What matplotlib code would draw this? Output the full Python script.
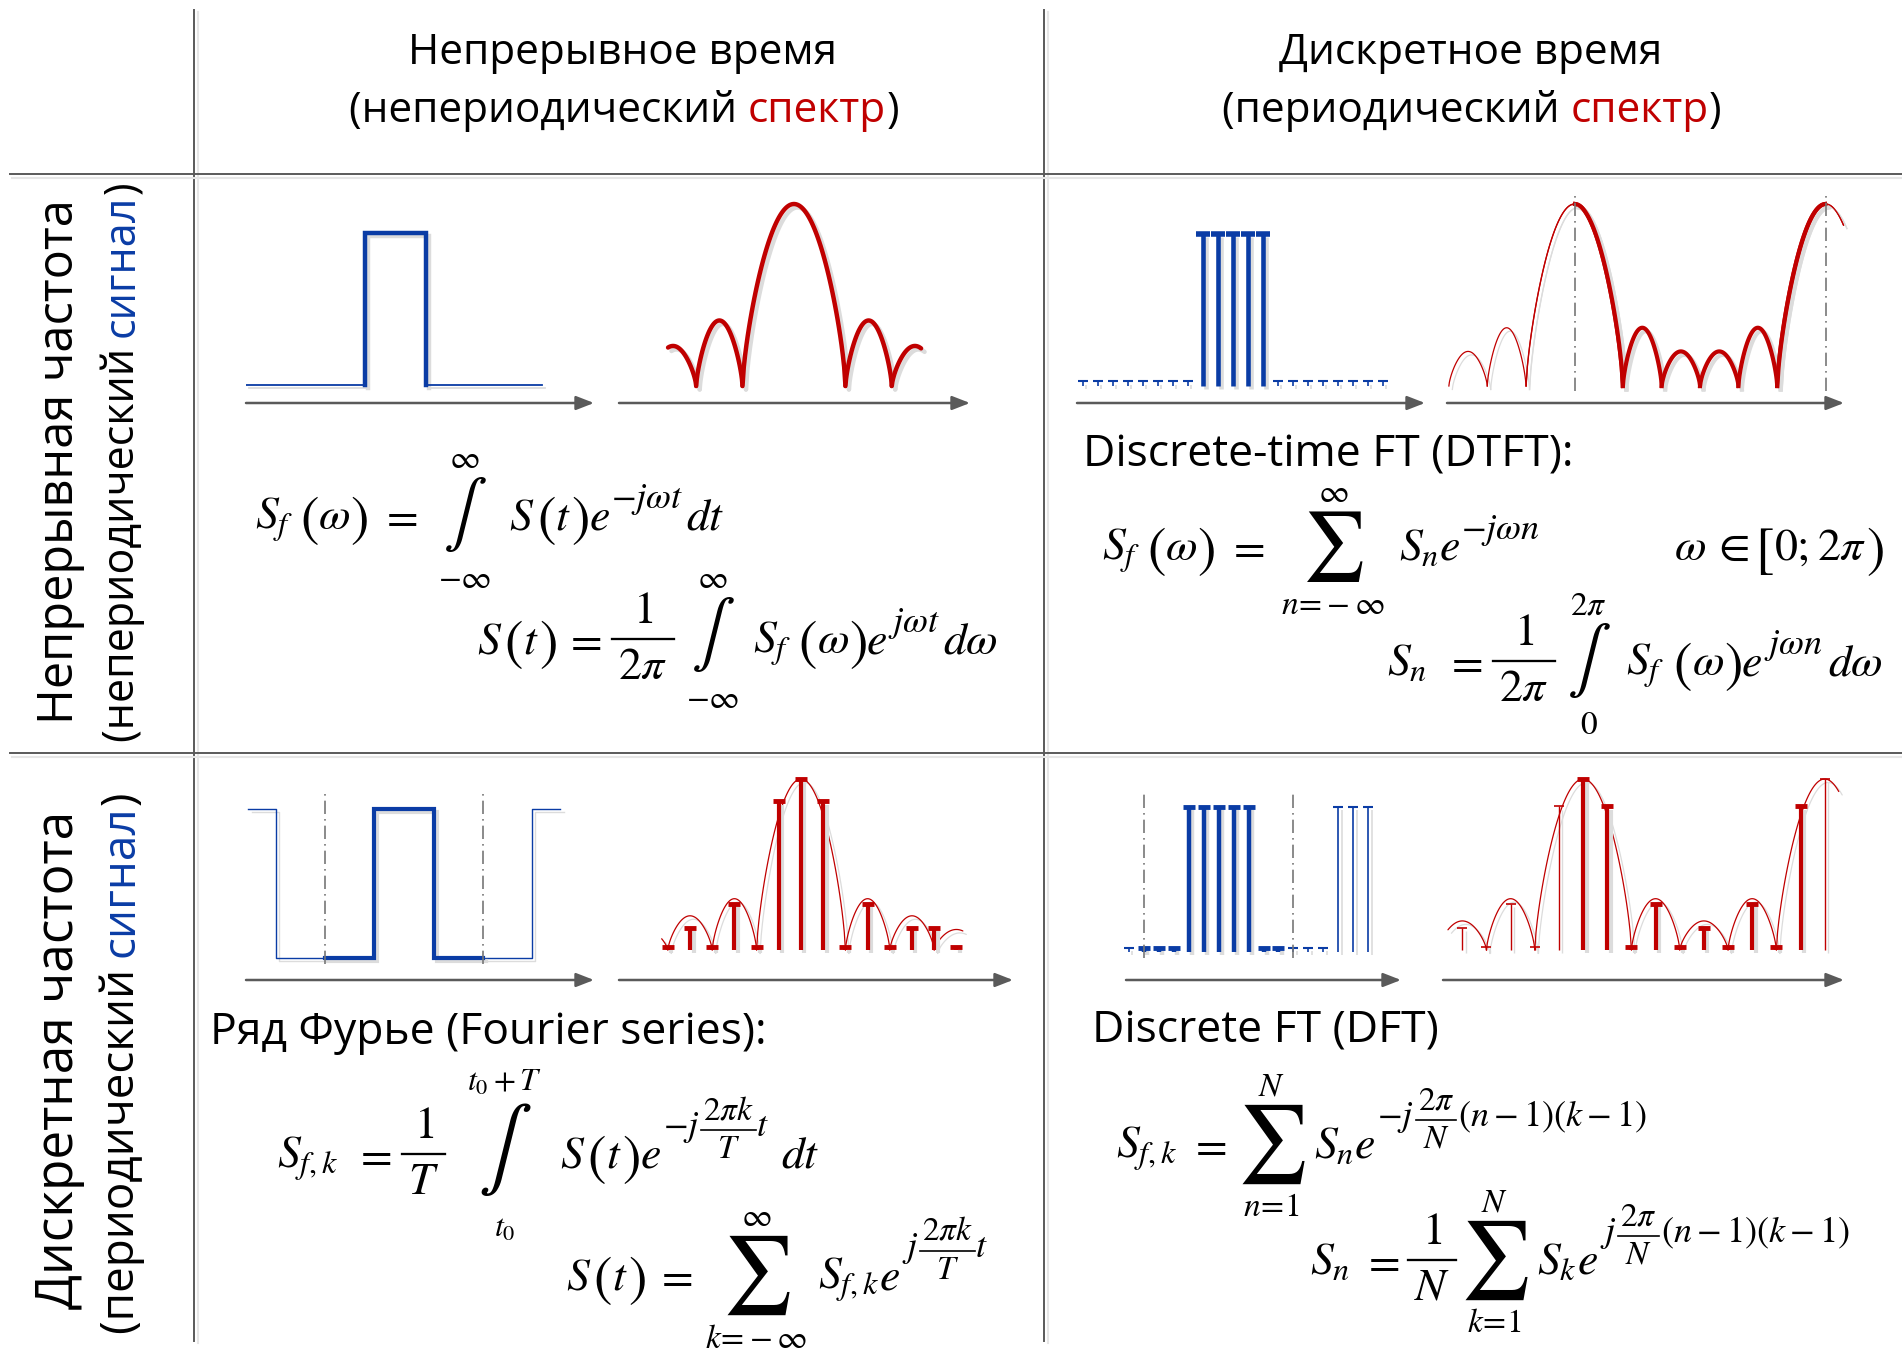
import numpy as np
import matplotlib
matplotlib.use('Agg')
import matplotlib.pyplot as plt
from matplotlib import patheffects as pe

# ---------------- data ----------------
# A: continuous aperiodic rectangular pulse
pulseA_edges = [4.1, 6.2]
pulseA_span = [0.0, 10.2]

# B: continuous spectrum lobes (zeros, peak heights)
specB_zeros = [-2.8, -1.9, -1.0, 1.0, 1.9, 2.8]
specB_heights = [0.22, 0.36, 1.0, 0.36, 0.22]
specB_span = [-2.45, 2.48]

# C: discrete-time pulse samples
sampC_n = list(range(-8, 13))
sampC_val = [0.03] * 8 + [1.0] * 5 + [0.03] * 8

# D: periodic spectrum, one period: zeros inside (0, 2pi) and side-lobe heights
specD_half_main = 1.21
specD_zeros = [1.21, 2.18, 3.14, 4.10, 5.07]
specD_side = [0.32, 0.19, 0.19, 0.32]
specD_span = [-3.15, 6.74]

# E: periodic continuous pulse
periodE = 10.0
widthE = 3.8
spanE = [-9.85, 9.9]

# F: Fourier-series coefficients (magnitudes)
coefF_k = list(range(-6, 8))
coefF_val = [0.02, 0.13, 0.02, 0.27, 0.02, 0.87, 1.0, 0.87, 0.02, 0.27, 0.02, 0.13, 0.13, 0.02]
envF_zeros = [-8.0, -6.0, -4.0, -2.0, 2.0, 4.0, 6.0, 8.0]
envF_heights = [0.12, 0.2, 0.3, 1.0, 0.3, 0.2, 0.12]
envF_span = [-6.3, 7.3]

# G: periodic discrete samples (period 10)
sampG_n = list(range(-1, 16))
sampG_val = [0.03, 0.03, 0.03, 0.03, 1, 1, 1, 1, 1, 0.03, 0.03, 0.03, 0.03, 0.03, 1, 1, 1]

# H: DFT coefficients (period 10) and periodic envelope
coefH_k = list(range(-5, 11))
coefH_val = [0.13, 0.02, 0.27, 0.02, 0.84, 1.0, 0.84, 0.02, 0.27, 0.02, 0.13, 0.02, 0.27, 0.02, 0.84, 1.0]
envH_zeros = [-8.0, -6.0, -4.0, -2.0, 2.0, 4.0, 6.0, 8.0, 12.0]
envH_heights = [0.3, 0.17, 0.3, 1.0, 0.3, 0.17, 0.3, 1.0]

W, H = 1902, 1358
DPI = 100
plt.rcParams['mathtext.fontset'] = 'stix'
plt.rcParams['font.family'] = ['Open Sans', 'DejaVu Sans']

BLUE = '#0a3ca5'
RED = '#c00000'
GRID = '#5a5a5a'
ARROW = '#5a5a5a'
SHADOW = [pe.SimpleLineShadow(offset=(2.5, -2.5), shadow_color='#dcdcdc', alpha=1.0), pe.Normal()]

fig = plt.figure(figsize=(W / DPI, H / DPI), dpi=DPI)
bg = fig.add_axes([0, 0, 1, 1])
bg.set_xlim(0, W)
bg.set_ylim(H, 0)
bg.axis('off')
renderer = fig.canvas.get_renderer()

# ---------------- grid ----------------
for x in (194, 1044):
    bg.plot([x + 4, x + 4], [12, 1343], color='#e6e6e6', lw=1.5)
    bg.plot([x, x], [10, 1341], color=GRID, lw=1.4)
for y in (174, 753):
    bg.plot([12, W], [y + 4, y + 4], color='#e6e6e6', lw=1.5)
    bg.plot([10, W], [y, y], color=GRID, lw=1.4)


# ---------------- text helpers ----------------
def extent(s, size):
    t = bg.text(0, 0, s, fontsize=size)
    bb = t.get_window_extent(renderer)
    t.remove()
    return bb.width, bb.height


def text_width(s, size):
    return extent(s + '|', size)[0] - extent('|', size)[0]


def rich(x, y, pieces, size, rotation=0, align='center'):
    full = ''.join(p[0] for p in pieces)
    total = text_width(full, size)
    start = {'center': -total / 2, 'left': 0}[align]
    prefix = ''
    for s, c in pieces:
        off = start + (text_width(prefix, size) if prefix else 0)
        if rotation == 0:
            bg.text(x + off, y, s, fontsize=size, color=c, ha='left', va='baseline')
        else:
            bg.text(x, y - off, s, fontsize=size, color=c, ha='left', va='baseline',
                    rotation=90, rotation_mode='anchor')
        prefix += s


FS = 30.5
rich(622, 64, [('Непрерывное время', 'k')], FS)
rich(624, 122, [('(непериодический ', 'k'), ('спектр', RED), (')', 'k')], FS)
rich(1471, 64, [('Дискретное время', 'k')], FS)
rich(1472, 122, [('(периодический ', 'k'), ('спектр', RED), (')', 'k')], FS)

rich(73, 462, [('Непрерывная частота', 'k')], 35, rotation=90)
rich(134, 462, [('(непериодический ', 'k'), ('сигнал', BLUE), (')', 'k')], 31, rotation=90)
rich(73, 1060, [('Дискретная частота', 'k')], 37, rotation=90)
rich(134, 1063, [('(периодический ', 'k'), ('сигнал', BLUE), (')', 'k')], 33, rotation=90)

FS2 = 32
rich(1083, 466, [('Discrete-time FT (DTFT):', 'k')], FS2, align='left')
rich(210, 1044, [('Ряд Фурье (Fourier series):', 'k')], FS2, align='left')
rich(1092, 1042, [('Discrete FT (DFT)', 'k')], FS2, align='left')

# ---------------- formula layout engine ----------------
MS = 33      # main formula size
PS = 40      # big parenthesis size
ES = 26      # exponent size
EF = 24      # exponent fraction size
LS = 24      # limits size


def T(s, size=MS, dy=0):
    return ('t', s, size, dy)


def SP(px):
    return ('sp', px)


def P(c, size=PS, dy=6):
    return ('t', '$' + c + '$', size, dy)


def OP(sym, size, up, lo, c_off, up_off, lo_off, lsize=LS):
    return ('op', sym, size, up, lo, c_off, up_off, lo_off, lsize)


def FR(num, den, size=MS, bar_off=14, gap=5, dy=0, pad=6):
    return ('fr', num, den, size, bar_off, gap, dy, pad)


def row(x, yb, items):
    for it in items:
        kind = it[0]
        if kind == 'sp':
            x += it[1]
        elif kind == 't':
            _, s, size, dy = it
            bg.text(x, yb + dy, s, fontsize=size, ha='left', va='baseline')
            x += extent(s, size)[0]
        elif kind == 'op':
            _, sym, size, up, lo, c_off, up_off, lo_off, lsize = it
            w = extent(sym, size)[0]
            wu = extent(up, lsize)[0] if up else 0
            wl = extent(lo, lsize)[0] if lo else 0
            wid = max(w, wu, wl)
            xc = x + wid / 2
            yc = yb - c_off
            bg.text(xc, yc, sym, fontsize=size, ha='center', va='center')
            if up:
                bg.text(xc, yc - up_off, up, fontsize=lsize, ha='center', va='center')
            if lo:
                bg.text(xc, yc + lo_off, lo, fontsize=lsize, ha='center', va='center')
            x += wid
        elif kind == 'fr':
            _, num, den, size, bar_off, gap, dy, pad = it
            wid = max(extent(num, size)[0], extent(den, size)[0]) + 2 * pad
            xc = x + wid / 2
            yb_bar = yb + dy - bar_off
            bg.plot([x, x + wid], [yb_bar, yb_bar], color='k', lw=max(1.0, size / 20))
            bg.text(xc, yb_bar - gap, num, fontsize=size, ha='center', va='bottom')
            bg.text(xc, yb_bar + gap, den, fontsize=size, ha='center', va='top')
            x += wid
    return x


INT = r'$\int$'
SUM = r'$\sum$'
EY = -21     # raise of simple exponents
BY = -32     # raise of exponents containing a fraction

# top-left
row(255, 529, [T(r'$S_f$'), SP(6), P('('), T(r'$\omega$'), P(')'), SP(12), T('$=$'), SP(20),
               OP(INT, 47, r'$\infty$', r'$-\infty$', 14, 55, 64), SP(18),
               T('$S$'), SP(2), P('('), T('$t$'), P(')'), T('$e$'), SP(1), T(r'$-j\omega t$', ES, EY),
               SP(3), T('$dt$')])
row(477, 653, [T('$S$'), SP(2), P('('), T('$t$'), P(')'), SP(8), T('$=$'), SP(10),
               FR('$1$', r'$2\pi$'), SP(12),
               OP(INT, 47, r'$\infty$', r'$-\infty$', 18, 55, 64), SP(14),
               T(r'$S_f$'), SP(6), P('('), T(r'$\omega$'), P(')'), T('$e$'), SP(1),
               T(r'$j\omega t$', ES, EY), SP(3), T(r'$d\omega$')])

# top-right
row(1102, 560, [T(r'$S_f$'), SP(6), P('('), T(r'$\omega$'), P(')'), SP(12), T('$=$'), SP(16),
                OP(SUM, 50, r'$\infty$', r'$n\!=\!-\infty$', 14, 52, 60), SP(14),
                T(r'$S_n$'), T('$e$'), SP(1), T(r'$-j\omega n$', ES, EY)])
row(1674, 560, [T(r'$\omega$'), SP(6), T(r'$\in$'), SP(6), P('['), T('$0;$'), SP(8),
                T(r'$2\pi$'), P(')')])
row(1387, 675, [T(r'$S_n$'), SP(18), T('$=$'), SP(10), FR('$1$', r'$2\pi$'), SP(12),
                OP(INT, 47, r'$2\pi$', r'$0$', 14, 55, 65), SP(16),
                T(r'$S_f$'), SP(8), P('('), T(r'$\omega$'), P(')'), T('$e$'), SP(2),
                T(r'$j\omega n$', ES, EY), SP(5), T(r'$d\omega$')])

# bottom-left
row(277, 1168, [T(r'$S_{f,k}$'), SP(16), T('$=$'), SP(10), FR('$1$', '$T$'), SP(22),
                OP(INT, 58, r'$t_0+T$', r'$t_0$', 18, 68, 78, 23), SP(18),
                T('$S$'), SP(2), P('('), T('$t$'), P(')'), T('$e$'), SP(2),
                T(r'$-j$', ES, BY), SP(2), FR(r'$2\pi k$', '$T$', EF, 0, 3, BY - 6, 2), T('$t$', ES, BY),
                SP(12), T('$dt$')])
row(566, 1289, [T('$S$'), SP(2), P('('), T('$t$'), P(')'), SP(10), T('$=$'), SP(12),
                OP(SUM, 56, r'$\infty$', r'$k\!=\!-\infty$', 14, 57, 64), SP(10),
                T(r'$S_{f,k}$'), T('$e$'), SP(2),
                T(r'$j$', ES, BY), SP(2), FR(r'$2\pi k$', '$T$', EF, 0, 3, BY - 6, 2), T('$t$', ES, BY)])

# bottom-right
row(1116, 1158, [T(r'$S_{f,k}$'), SP(12), T('$=$'), SP(10),
                 OP(SUM, 56, r'$N$', r'$n\!=\!1$', 14, 57, 64), SP(8),
                 T(r'$S_n$'), T('$e$'), SP(2),
                 T(r'$-j$', ES, BY), SP(2), FR(r'$2\pi$', '$N$', EF, 0, 3, BY - 6, 2), SP(2),
                 T(r'$(n-1)(k-1)$', ES, BY)])
row(1310, 1274, [T(r'$S_n$'), SP(12), T('$=$'), SP(8), FR('$1$', '$N$'), SP(4),
                 OP(SUM, 56, r'$N$', r'$k\!=\!1$', 14, 57, 64), SP(8),
                 T(r'$S_k$'), T('$e$'), SP(2),
                 T(r'$j$', ES, BY), SP(2), FR(r'$2\pi$', '$N$', EF, 0, 3, BY - 6, 2), SP(2),
                 T(r'$(n-1)(k-1)$', ES, BY)])


# ---------------- mini plots ----------------
def add_ax(x0, x1, y_arrow, y_zero, y_one, xlim):
    unit = y_zero - y_one
    a = (y_arrow - y_zero) / unit
    top_pad = 0.3
    top_px = y_one - top_pad * unit
    ax = fig.add_axes([x0 / W, 1 - y_arrow / H, (x1 - x0) / W, (y_arrow - top_px) / H])
    ax.set_xlim(*xlim)
    ax.set_ylim(-a, 1 + top_pad)
    ax.axis('off')
    ax.annotate('', xy=(xlim[1], -a), xytext=(xlim[0], -a),
                arrowprops=dict(arrowstyle='-|>,head_length=0.9,head_width=0.35', color=ARROW,
                                lw=1.8, shrinkA=0, shrinkB=0, mutation_scale=12),
                annotation_clip=False)
    return ax


def lobe(z0, z1, h, n=80, p=0.7):
    x = np.linspace(z0, z1, n)
    return x, h * np.sin(np.pi * (x - z0) / (z1 - z0)) ** p


def draw_lobes(ax, zeros, heights, span, color, lw):
    for z0, z1, h in zip(zeros[:-1], zeros[1:], heights):
        x, y = lobe(z0, z1, h)
        mask = (x >= span[0]) & (x <= span[1])
        if mask.sum() > 1:
            ax.plot(x[mask], y[mask], color=color, lw=lw, clip_on=False, path_effects=SHADOW,
                    solid_capstyle='round')


def stems(ax, xs, vals, color, lw, cap, capw):
    for x, v in zip(xs, vals):
        ax.plot([x, x], [0, v], color=color, lw=lw, clip_on=False, path_effects=SHADOW,
                solid_capstyle='butt')
        ax.plot([x], [v], marker='_', ms=cap, mew=capw, color=color, clip_on=False)


DASHDOT = (0, (8, 3, 1, 3))

# A
axA = add_ax(246, 594, 403, 385, 233, (0, 12))
e0, e1 = pulseA_edges
axA.plot([pulseA_span[0], e0], [0, 0], color=BLUE, lw=1.3, path_effects=SHADOW)
axA.plot([e0, e0, e1, e1], [0, 1, 1, 0], color=BLUE, lw=3.2, path_effects=SHADOW,
         solid_joinstyle='miter')
axA.plot([e1, pulseA_span[1]], [0, 0], color=BLUE, lw=1.3, path_effects=SHADOW)

# B
axB = add_ax(619, 970, 403, 386, 204, (-3.4, 3.42))
draw_lobes(axB, specB_zeros, specB_heights, specB_span, RED, 3.2)

# C
axC = add_ax(1077, 1425, 403, 386, 234, (-8.4, 14.8))
for n, v in zip(sampC_n, sampC_val):
    big = v > 0.5
    stems(axC, [n], [v], BLUE, 3.3 if big else 1.2, 10 if big else 7, 4 if big else 1.5)

# D
axD = add_ax(1447, 1844, 403, 386, 204, (-3.19, 6.74))
period = 2 * np.pi
per_z = [-specD_half_main] + specD_zeros + [period + specD_half_main]
per_h = [1.0] + specD_side + [1.0]
for k in (-1, 0, 1):
    for z0, z1, h in zip(per_z[:-1], per_z[1:], per_h):
        a0, a1 = z0 + k * period, z1 + k * period
        x, y = lobe(a0, a1, h)
        inside = (x >= 0) & (x <= period)
        vis = (x >= specD_span[0]) & (x <= specD_span[1])
        for msk, lw in ((inside & vis, 3.0), (~inside & vis, 0.9)):
            if msk.sum() > 1:
                axD.plot(x[msk], y[msk], color=RED, lw=lw, clip_on=False, path_effects=SHADOW)
for xv in (0, period):
    axD.plot([xv, xv], [-0.03, 1.07], color='#777777', lw=1.2, ls=DASHDOT, clip_on=False)

# E
axE = add_ax(246, 594, 980, 958, 809, (-10.0, 12.05))
half = widthE / 2
tE, yE = [], []
for c in (-periodE, 0, periodE):
    tE += [c - half, c - half, c + half, c + half]
    yE += [0, 1, 1, 0]
tE = np.concatenate([[spanE[0]], tE[2:-2], [spanE[1]]])
yE = np.concatenate([[1.0], yE[2:-2], [1.0]])
axE.plot(tE, yE, color=BLUE, lw=1.0, path_effects=SHADOW)
w0, w1 = -periodE / 2, periodE / 2
axE.plot([w0, -half, -half, half, half, w1], [0, 0, 1, 1, 0, 0], color=BLUE, lw=3.0,
         path_effects=SHADOW, solid_joinstyle='miter')
for xv in (w0, w1):
    axE.plot([xv, xv], [-0.04, 1.1], color='#777777', lw=1.2, ls=DASHDOT, clip_on=False)

# F
axF = add_ax(619, 1013, 980, 950, 779, (-8.2, 9.55))
draw_lobes(axF, envF_zeros, envF_heights, envF_span, RED, 0.9)
for k, v in zip(coefF_k, coefF_val):
    stems(axF, [k], [v], RED, 3.0, 9, 3.5)

# G
axG = add_ax(1126, 1401, 980, 952, 807, (-1.2, 17.2))
for n, v in zip(sampG_n, sampG_val):
    inside = 0 <= n <= 9
    stems(axG, [n], [v], BLUE, 3.2 if inside else 1.2, 9 if inside else 7, 3.5 if inside else 1.5)
for xv in (0, 10):
    axG.plot([xv, xv], [-0.04, 1.1], color='#777777', lw=1.2, ls=DASHDOT, clip_on=False)

# H
axH = add_ax(1443, 1844, 980, 950, 779, (-5.8, 10.8))
draw_lobes(axH, envH_zeros, envH_heights, (-5.6, 10.6), RED, 0.9)
for k, v in zip(coefH_k, coefH_val):
    inside = 0 <= k <= 9
    stems(axH, [k], [v], RED, 3.0 if inside else 1.0, 9 if inside else 7, 3.5 if inside else 1.2)

fig.savefig('out.png', dpi=DPI)
